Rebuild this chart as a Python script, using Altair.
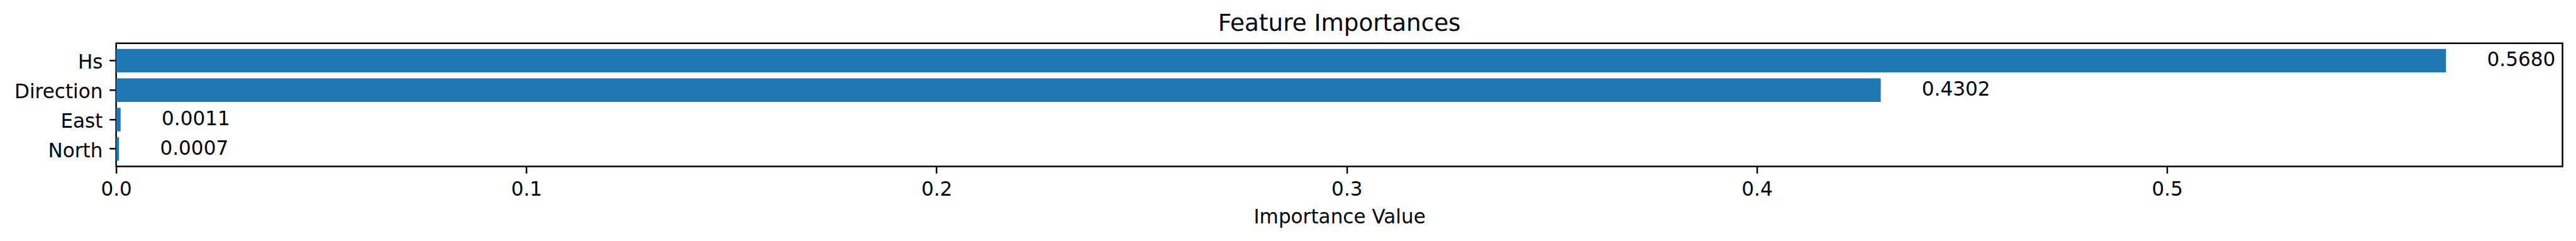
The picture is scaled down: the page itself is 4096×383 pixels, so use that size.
import altair as alt
import pandas as pd

features = ["Hs", "Direction", "East", "North"]
importances = [0.5680, 0.4302, 0.0011, 0.0007]
x_ticks = [0.0, 0.1, 0.2, 0.3, 0.4, 0.5]

df = pd.DataFrame({"feature": features, "importance": importances})

FONT = "DejaVu Sans"
FS = 31.1
W, H = 3890, 195.6

x_scale = alt.Scale(domain=[0, 0.5964], nice=False, zero=True)
y_scale = alt.Scale(domain=features, paddingInner=0.2, paddingOuter=0.19)

base = alt.Chart(df)

bars = base.mark_bar(color="#1f77b4").encode(
    x=alt.X(
        "importance:Q",
        scale=x_scale,
        axis=alt.Axis(
            values=x_ticks,
            format=".1f",
            labelFontSize=FS,
            labelFont=FONT,
            labelColor="black",
            labelFlush=False,
            labelOverlap=False,
            labelPadding=10.2,
            tickSize=10.9,
            tickWidth=2.5,
            tickColor="black",
            domain=False,
            grid=False,
            title="Importance Value",
            titleFont=FONT,
            titleFontSize=FS,
            titleFontWeight="normal",
            titleColor="black",
            titleY=90.5,
            titleBaseline="alphabetic",
        ),
    ),
    y=alt.Y(
        "feature:N",
        scale=y_scale,
        sort=features,
        axis=alt.Axis(
            title=None,
            labelFontSize=FS,
            labelFont=FONT,
            labelColor="black",
            labelPadding=10.8,
            labelBaseline="middle",
            labelOffset=4,
            tickSize=10.9,
            tickWidth=2.5,
            tickColor="black",
            domain=False,
            grid=False,
        ),
    ),
)

labels = base.transform_calculate(
    xpos="datum.importance + 0.01"
).mark_text(
    align="left", baseline="middle", font=FONT, fontSize=FS, color="black"
).encode(
    x=alt.X("xpos:Q", scale=x_scale),
    y=alt.Y("feature:N", scale=y_scale, sort=features),
    text=alt.Text("importance:Q", format=".4f"),
)

chart = (
    alt.layer(bars, labels)
    .properties(
        width=W,
        height=H,
        title=alt.TitleParams(
            "Feature Importances",
            font=FONT,
            fontSize=37.3,
            fontWeight="normal",
            color="black",
            anchor="middle",
            frame="group",
            offset=11,
        ),
        padding={"left": 176.6, "top": 60.8, "right": 13, "bottom": 110},
        autosize=alt.AutoSizeParams(type="none"),
    )
    .configure_view(stroke="black", strokeWidth=2.5)
)

chart.save("out.html", embed_options={"renderer": "svg", "actions": False})
